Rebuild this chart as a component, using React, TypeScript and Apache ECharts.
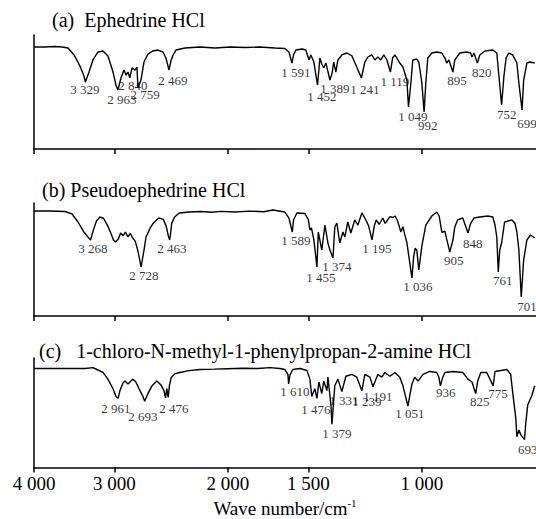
import { useEffect, useRef } from "react";
import * as echarts from "echarts";

// Wavenumber axis ticks (cm^-1); the axis is logarithmic and reversed
const tickValues = [4000, 3000, 2000, 1500, 1000];
const axisMinWave = 665;
const axisMaxWave = 4000;

const panelTitles = [
  "(a)\u00a0\u00a0Ephedrine HCl",
  "(b) Pseudoephedrine HCl",
  "(c)\u00a0\u00a0\u00a01-chloro-N-methyl-1-phenylpropan-2-amine HCl",
];

// [wavenumber, transmittance %]
const spectrumA: [number, number][] = [
  [4000, 89.5], [3846, 89.5], [3711, 89.9], [3619, 89.5], [3542, 88.6], [3467, 82.5], [3394, 72.8],
  [3346, 64.0], [3329, 58.8], [3286, 67.5], [3240, 78.1], [3182, 85.1], [3126, 86.0], [3071, 81.6],
  [3016, 67.5], [2984, 56.0], [2963, 51.8], [2931, 62.3], [2900, 69.3], [2879, 64.9], [2859, 67.5],
  [2840, 62.5], [2818, 71.1], [2788, 69.3], [2768, 71.9], [2759, 53.5], [2729, 60.5], [2700, 76.3],
  [2662, 83.3], [2615, 86.0], [2568, 86.8], [2523, 85.1], [2496, 79.8], [2469, 69.3], [2450, 78.0],
  [2430, 83.0], [2408, 86.8], [2332, 88.6], [2210, 89.5], [2095, 88.6], [1986, 89.5], [1882, 89.0],
  [1784, 89.5], [1691, 88.6], [1632, 88.2], [1608, 85.1], [1591, 75.4], [1582, 82.5], [1569, 86.8],
  [1535, 87.7], [1514, 86.8], [1497, 78.1], [1487, 82.5], [1471, 76.3], [1452, 56.1], [1445, 69.3],
  [1440, 79.8], [1430, 74.6], [1420, 71.1], [1409, 75.4], [1399, 68.0], [1389, 60.5], [1379, 66.0],
  [1370, 76.3], [1360, 67.5], [1350, 78.1], [1331, 82.5], [1307, 84.2], [1284, 81.6], [1266, 73.7],
  [1241, 62.3], [1226, 76.3], [1213, 80.7], [1196, 82.5], [1183, 78.1], [1170, 80.7], [1158, 78.1],
  [1146, 82.5], [1133, 78.1], [1119, 67.5], [1110, 80.0], [1101, 82.5], [1082, 75.4], [1070, 71.9],
  [1055, 60.5], [1049, 36.8], [1040, 57.9], [1033, 78.1], [1018, 78.9], [1011, 76.3], [1000, 57.9],
  [992, 32.5], [986, 57.9], [979, 79.8], [965, 84.2], [948, 85.1], [931, 84.2], [921, 79.8],
  [915, 75.4], [908, 78.1], [895, 67.5], [889, 78.1], [873, 84.2], [852, 85.1], [840, 84.2],
  [836, 80.7], [830, 84.2], [820, 75.4], [813, 82.5], [798, 86.0], [776, 86.8], [765, 84.2],
  [760, 66.7], [752, 38.6], [746, 63.2], [740, 79.8], [733, 84.2], [723, 82.5], [712, 75.4],
  [707, 57.9], [699, 34.2], [695, 60.5], [687, 75.4], [680, 76.3], [668, 75.4],
];

const spectrumB: [number, number][] = [
  [4000, 92.9], [3778, 92.9], [3580, 92.5], [3492, 90.3], [3418, 83.2], [3346, 74.3], [3300, 70.0],
  [3268, 67.3], [3235, 76.0], [3200, 84.0], [3160, 87.6], [3120, 86.5], [3075, 80.0], [3040, 73.5],
  [3010, 67.0], [2990, 65.5], [2960, 68.0], [2935, 73.5], [2910, 71.0], [2885, 74.3], [2860, 70.0],
  [2835, 73.0], [2810, 69.0], [2785, 66.0], [2760, 58.0], [2740, 49.0], [2728, 43.4], [2715, 50.0],
  [2700, 58.0], [2680, 69.9], [2640, 78.0], [2610, 82.3], [2560, 86.7], [2520, 85.5], [2495, 80.0],
  [2475, 71.0], [2463, 67.3], [2455, 73.0], [2445, 82.0], [2420, 87.6], [2380, 91.2], [2300, 92.0],
  [2200, 92.5], [2120, 91.8], [2050, 92.6], [1950, 92.0], [1850, 92.8], [1760, 92.3], [1703, 93.8],
  [1632, 92.0], [1608, 86.7], [1589, 74.3], [1582, 85.0], [1563, 91.2], [1519, 90.7], [1500, 85.0],
  [1492, 76.1], [1484, 77.9], [1471, 67.3], [1455, 43.4], [1448, 74.3], [1440, 67.3], [1430, 58.4],
  [1414, 80.5], [1399, 64.6], [1389, 58.4], [1374, 51.3], [1365, 78.8], [1355, 82.3], [1341, 64.6],
  [1326, 74.3], [1317, 69.9], [1303, 83.2], [1289, 73.5], [1271, 85.0], [1257, 80.5], [1239, 91.2],
  [1226, 86.7], [1210, 80.0], [1195, 67.3], [1185, 80.0], [1177, 85.0], [1165, 81.0], [1150, 86.7],
  [1140, 82.0], [1128, 85.8], [1120, 88.0], [1110, 87.0], [1100, 88.5], [1092, 85.0], [1085, 80.0],
  [1078, 74.3], [1070, 79.0], [1063, 72.0], [1055, 65.0], [1036, 33.6], [1030, 52.0], [1024, 60.0],
  [1018, 58.0], [1011, 40.7], [1000, 61.9], [986, 80.5], [965, 88.5], [948, 92.0], [940, 88.5],
  [931, 74.0], [921, 75.0], [915, 68.0], [905, 56.6], [895, 67.0], [889, 78.8], [880, 85.0],
  [864, 86.7], [848, 73.5], [840, 82.0], [830, 86.7], [813, 87.6], [790, 88.5], [776, 87.6],
  [770, 80.5], [765, 69.9], [761, 38.9], [757, 58.4], [752, 64.6], [744, 83.2], [725, 85.0],
  [717, 82.3], [712, 74.3], [707, 58.4], [701, 16.8], [695, 49.6], [687, 67.3], [678, 71.7], [668, 69.0],
];

const spectrumC: [number, number][] = [
  [4000, 90.4], [3645, 90.4], [3334, 90.4], [3240, 91.2], [3194, 89.5], [3126, 86.8], [3071, 80.7],
  [3016, 71.9], [2984, 64.9], [2961, 63.2], [2942, 70.2], [2910, 77.2], [2890, 78.9], [2859, 76.3],
  [2829, 78.9], [2808, 80.7], [2779, 78.1], [2739, 70.2], [2710, 64.9], [2693, 60.5], [2662, 67.5],
  [2624, 74.6], [2578, 78.9], [2541, 75.4], [2514, 70.2], [2500, 63.5], [2488, 72.0], [2476, 64.0],
  [2465, 75.0], [2450, 82.0], [2420, 85.5], [2374, 86.8], [2300, 88.5], [2210, 89.5], [2100, 89.8],
  [2000, 90.2], [1900, 90.6], [1800, 90.4], [1720, 91.2], [1661, 90.4], [1632, 89.5], [1614, 85.1],
  [1610, 76.3], [1603, 84.2], [1586, 89.5], [1546, 90.4], [1508, 88.6], [1492, 80.7], [1482, 64.9],
  [1476, 67.5], [1466, 71.9], [1455, 63.2], [1445, 78.1], [1430, 67.5], [1420, 78.9], [1404, 70.2],
  [1399, 82.5], [1384, 57.0], [1379, 39.5], [1365, 74.6], [1350, 80.7], [1331, 69.3], [1312, 83.3],
  [1284, 85.1], [1262, 82.5], [1239, 70.2], [1226, 85.1], [1204, 82.5], [1191, 73.7], [1170, 85.1],
  [1154, 82.5], [1141, 86.8], [1121, 83.3], [1101, 86.8], [1082, 82.5], [1070, 74.6], [1051, 56.1],
  [1044, 65.8], [1036, 76.3], [1026, 82.5], [1014, 78.9], [996, 85.1], [972, 87.7], [948, 86.8],
  [941, 82.5], [936, 74.6], [928, 82.5], [921, 86.8], [895, 87.7], [864, 86.8], [848, 80.7],
  [836, 78.1], [825, 67.5], [819, 78.9], [810, 86.8], [793, 86.8], [784, 80.7], [775, 74.6],
  [770, 87.7], [738, 89.5], [728, 85.1], [723, 69.3], [715, 45.6], [712, 28.1], [707, 34.2],
  [702, 29.8], [693, 25.4], [690, 39.5], [685, 57.0], [675, 65.8], [668, 74.6],
];

// Peak annotations: [text, wavenumber of label centre, transmittance of label centre]
const peaksA: [string, number, number][] = [
  ["3 329", 3334, 51.8], ["2 963", 2921, 43.0], ["2 840", 2808, 55.5], ["2 759", 2690, 47.4],
  ["2 469", 2434, 60.5], ["1 591", 1569, 66.7], ["1 452", 1430, 45.8], ["1 389", 1365, 53.2],
  ["1 241", 1226, 52.6], ["1 119", 1101, 58.8], ["1 049", 1033, 28.9], ["992", 979, 20.2],
  ["895", 882, 60.5], ["820", 807, 66.7], ["752", 738, 30.7], ["699", 687, 22.8],
];
const peaksB: [string, number, number][] = [
  ["3 268", 3240, 59.3], ["2 728", 2700, 35.4], ["2 463", 2443, 59.3], ["1 589", 1569, 66.4],
  ["1 455", 1435, 34.5], ["1 374", 1355, 43.4], ["1 195", 1174, 59.3], ["1 036", 1014, 25.7],
  ["905", 892, 48.7], ["848", 834, 64.6], ["761", 749, 31.0], ["701", 687, 8.8],
];
const peaksC: [string, number, number][] = [
  ["2 961", 2984, 53.5], ["2 693", 2710, 46.5], ["2 476", 2426, 53.5], ["1 610", 1574, 69.3],
  ["1 476", 1460, 52.6], ["1 331", 1322, 61.4], ["1 239", 1217, 60.5], ["1 191", 1170, 64.9],
  ["1 379", 1355, 30.7], ["1 051", 1044, 49.1], ["936", 918, 68.4], ["825", 813, 60.5],
  ["775", 762, 67.5], ["693", 685, 16.7],
];

const spectra = [spectrumA, spectrumB, spectrumC];
const peaks = [peaksA, peaksB, peaksC];

const FONT = "'Liberation Serif', 'Times New Roman', serif";
const lg = (v: number) => Math.log10(v);
const fmtWave = (v: number) => {
  const n = Math.round(Math.pow(10, v));
  if (n >= 1000) return `${Math.floor(n / 1000)} ${String(n % 1000).padStart(3, "0")}`;
  return String(n);
};

export default function App() {
  const ref = useRef<HTMLDivElement>(null);
  useEffect(() => {
    if (!ref.current) return;
    const chart = echarts.init(ref.current, undefined, { renderer: "svg" });
    const grids = [
      { left: 34, right: 0, top: 35, height: 114 },
      { left: 34, right: 0, top: 203, height: 113 },
      { left: 34, right: 0, top: 358, height: 114 },
    ];
    const ticks = tickValues.map(lg);
    const xAxes = grids.map((_, i) => ({
      gridIndex: i,
      type: "value",
      min: lg(axisMinWave),
      max: lg(axisMaxWave),
      inverse: true,
      axisLine: { show: true, onZero: false, lineStyle: { color: "#000", width: 1.5 } },
      axisTick: { show: true, customValues: ticks, length: 5, lineStyle: { color: "#000", width: 1.5 } },
      axisLabel: {
        show: i === 2,
        customValues: ticks,
        formatter: fmtWave,
        color: "#000",
        fontFamily: FONT,
        fontSize: 19,
        margin: 6,
      },
      splitLine: { show: false },
      ...(i === 2
        ? {
            name: "{a|Wave number/cm}{b|-1}",
            nameLocation: "middle",
            nameGap: 30,
            nameTextStyle: {
              color: "#000",
              rich: {
                a: { fontFamily: FONT, fontSize: 19, color: "#000", lineHeight: 22 },
                b: { fontFamily: FONT, fontSize: 11, color: "#000", verticalAlign: "top", lineHeight: 22 },
              },
            },
          }
        : {}),
    }));
    const yAxes = grids.map((_, i) => ({
      gridIndex: i,
      type: "value",
      min: 0,
      max: 100,
      axisLine: { show: true, lineStyle: { color: "#000", width: 1.5 } },
      axisTick: { show: false },
      axisLabel: { show: false },
      splitLine: { show: false },
    }));
    const series: any[] = [];
    spectra.forEach((spec, i) => {
      series.push({
        type: "line",
        xAxisIndex: i,
        yAxisIndex: i,
        data: spec.map(([w, t]) => [lg(w), t]),
        showSymbol: false,
        symbol: "none",
        lineStyle: { color: "#000", width: 1.4 },
        silent: true,
      });
      series.push({
        type: "scatter",
        xAxisIndex: i,
        yAxisIndex: i,
        data: peaks[i].map(([s, w, t]) => ({ value: [lg(w), t], name: s })),
        symbolSize: 1,
        itemStyle: { color: "rgba(0,0,0,0)" },
        label: {
          show: true,
          position: "inside",
          formatter: (p: any) => p.name,
          color: "#000",
          textBorderWidth: 0,
          textBorderColor: "transparent",
          fontFamily: FONT,
          fontSize: 13,
        },
        silent: true,
      });
    });
    const titleStyle = { fontFamily: FONT, fontSize: 20, fontWeight: "normal", color: "#000" };
    chart.setOption({
      animation: false,
      backgroundColor: "#fff",
      title: [
        { text: panelTitles[0], left: 52, top: 10, padding: 0, textStyle: titleStyle },
        { text: panelTitles[1], left: 42, top: 180, padding: 0, textStyle: titleStyle },
        { text: panelTitles[2], left: 39, top: 341, padding: 0, textStyle: titleStyle },
      ],
      grid: grids,
      xAxis: xAxes,
      yAxis: yAxes,
      series,
    });
    return () => chart.dispose();
  }, []);
  return (
    <div
      ref={ref}
      style={{ position: "absolute", left: 0, top: 0, width: 536, height: 519 }}
    />
  );
}
